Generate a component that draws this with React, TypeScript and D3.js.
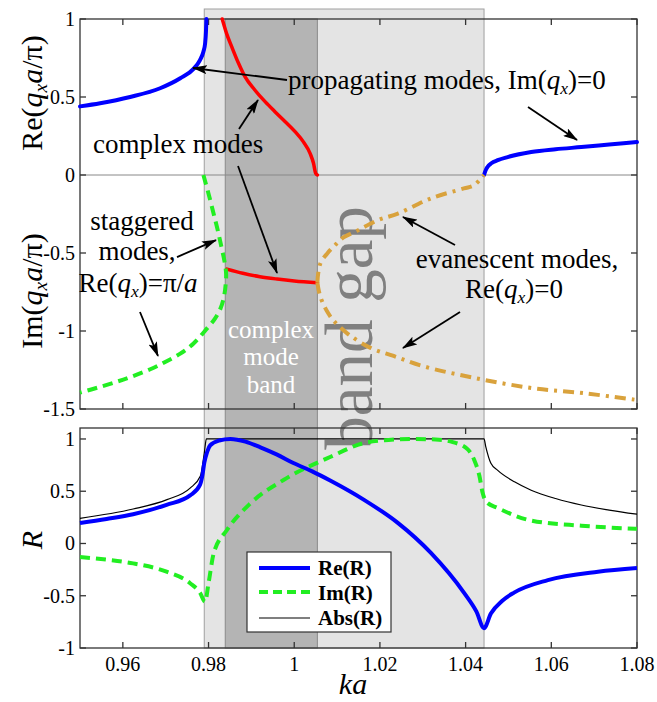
import React from 'react';
import * as d3 from 'd3';

// axis ticks
const xTicks = [0.96, 0.98, 1, 1.02, 1.04, 1.06, 1.08];
const topTicks = [1, 0.5, 0, -0.5, -1, -1.5];
const botTicks = [1, 0.5, 0, -0.5, -1];

// band edges (ka)
const gapStart = 0.979;
const complexStart = 0.9839;
const complexEnd = 1.0054;
const gapEnd = 1.0443;

// top panel: propagating modes, Re(q_x a/pi)
const propLeftKa = [0.95, 0.9547, 0.9617, 0.9687, 0.9734, 0.9765, 0.978, 0.9788, 0.9792, 0.9794, 0.9795];
const propLeftVal = [0.44, 0.46, 0.5, 0.556, 0.62, 0.68, 0.737, 0.79, 0.844, 0.92, 1.0];
const propRightKa = [1.0443, 1.0446, 1.0451, 1.046, 1.0475, 1.0498, 1.0553, 1.061, 1.067, 1.0735, 1.08];
const propRightVal = [0.0, 0.025, 0.051, 0.075, 0.095, 0.115, 0.147, 0.165, 0.179, 0.195, 0.211];

// complex modes: Re and Im
const complexReKa = [0.9832, 0.9842, 0.9854, 0.987, 0.9885, 0.9908, 0.9932, 0.9955, 0.9979, 1.0002, 1.0021, 1.0037, 1.0045, 1.005, 1.0054];
const complexReVal = [1.0, 0.908, 0.823, 0.716, 0.63, 0.545, 0.47, 0.406, 0.342, 0.278, 0.214, 0.139, 0.075, 0.011, 0.0];
const complexImKa = [0.9843, 0.988, 0.992, 0.996, 1.0, 1.0054];
const complexImVal = [-0.603, -0.63, -0.652, -0.667, -0.679, -0.69];

// staggered modes, Im part (traced from the top end)
const staggKa = [0.9788, 0.98, 0.9812, 0.9822, 0.983, 0.9837, 0.9841, 0.984, 0.9836, 0.9828, 0.9815, 0.9796, 0.9765, 0.9734, 0.97, 0.9664, 0.962, 0.9586, 0.954, 0.95];
const staggVal = [0.0, -0.12, -0.25, -0.36, -0.46, -0.55, -0.63, -0.7, -0.78, -0.855, -0.92, -0.985, -1.08, -1.145, -1.197, -1.245, -1.293, -1.325, -1.364, -1.395];

// evanescent modes, two branches
const evanUpKa = [1.0054, 1.0056, 1.0062, 1.0078, 1.0095, 1.0115, 1.0148, 1.0195, 1.0242, 1.0319, 1.0396, 1.0419, 1.0443];
const evanUpVal = [-0.69, -0.63, -0.56, -0.5, -0.45, -0.4, -0.356, -0.29, -0.247, -0.15, -0.086, -0.067, 0.0];
const evanLoKa = [1.0054, 1.0058, 1.0065, 1.0078, 1.0092, 1.0125, 1.0178, 1.0232, 1.03, 1.0419, 1.0553, 1.068, 1.0794];
const evanLoVal = [-0.69, -0.75, -0.81, -0.88, -0.934, -1.018, -1.108, -1.16, -1.225, -1.3, -1.365, -1.4, -1.44];

// bottom panel: reflection coefficient R
const reRKa = [0.95, 0.9562, 0.9624, 0.9702, 0.9757, 0.978, 0.9786, 0.979, 0.9797, 0.9804, 0.9825, 0.9851, 0.9886, 0.9921, 0.996, 0.9998, 1.0042, 1.0085, 1.0162, 1.0241, 1.0319, 1.0396, 1.0425, 1.0443, 1.0459, 1.0485, 1.0513, 1.0592, 1.0709, 1.08];
const reRVal = [0.196, 0.235, 0.28, 0.37, 0.46, 0.56, 0.66, 0.77, 0.88, 0.94, 0.985, 1.0, 0.975, 0.92, 0.85, 0.77, 0.69, 0.6, 0.42, 0.2, -0.09, -0.47, -0.65, -0.81, -0.67, -0.55, -0.47, -0.35, -0.27, -0.235];
const imRKa = [0.95, 0.9562, 0.9624, 0.9702, 0.9757, 0.978, 0.9792, 0.98, 0.9812, 0.9843, 0.9898, 0.9976, 1.0085, 1.0162, 1.022, 1.0279, 1.033, 1.037, 1.0405, 1.042, 1.0432, 1.044, 1.0448, 1.0475, 1.0553, 1.067, 1.08];
const imRVal = [-0.13, -0.155, -0.19, -0.27, -0.38, -0.47, -0.557, -0.38, -0.094, 0.129, 0.385, 0.61, 0.83, 0.96, 0.99, 1.0, 0.995, 0.97, 0.9, 0.8, 0.65, 0.48, 0.4, 0.34, 0.22, 0.17, 0.14];
const absRKa = [0.95, 0.9624, 0.9703, 0.9757, 0.9781, 0.979, 0.9795, 1.0443, 1.0447, 1.0459, 1.0475, 1.0514, 1.0553, 1.061, 1.067, 1.0735, 1.08];
const absRVal = [0.241, 0.33, 0.42, 0.53, 0.645, 0.863, 1.0, 1.0, 0.927, 0.767, 0.7, 0.59, 0.51, 0.43, 0.368, 0.32, 0.28];

// annotation arrows, [ka0, v0, ka1, v1] in top-panel units
const arrows = [
  [0.99831, 0.609, 0.97637, 0.686],
  [1.05456, 0.436, 1.066, 0.224],
  [0.98711, 0.295, 0.99154, 0.481],
  [0.98688, 0.058, 0.99598, -0.628],
  [0.97264, -0.526, 0.98174, -0.417],
  [0.964, -0.878, 0.9682, -1.16],
  [1.03752, -0.449, 1.02538, -0.269],
  [1.03869, -0.878, 1.02538, -1.109],
];

const W = 657;
const H = 702;
const serif = '"Liberation Serif", "DejaVu Serif", serif';
const blue = '#0000ff';
const green = '#22ee22';
const red = '#ff0000';
const gold = '#d9a23c';

const x = d3.scaleLinear().domain([0.95, 1.08]).range([80, 637]);
const yT = d3.scaleLinear().domain([-1.5, 1]).range([409, 19]);
const yB = d3.scaleLinear().domain([-1, 1.105]).range([648, 428]);

function curve(ka: number[], val: number[], y: d3.ScaleLinear<number, number>, mono = true) {
  return d3.line<number>()
    .x((_, i) => x(ka[i]))
    .y(d => y(d))
    .curve(mono ? d3.curveMonotoneX : d3.curveCatmullRom.alpha(0.5))(val) || '';
}

const Sub = ({ c }: { c: string }) => (
  <>
    <tspan fontStyle="italic">q</tspan>
    <tspan fontStyle="italic" fontSize="0.65em" dy="5">{c}</tspan>
  </>
);

function Frame({ y, ticks, top, bottom }: { y: d3.ScaleLinear<number, number>; ticks: number[]; top: number; bottom: number }) {
  const t = 6;
  return (
    <g stroke="#333" strokeWidth={1.3} fill="none">
      <rect x={80} y={top} width={557} height={bottom - top} />
      {xTicks.map(v => (
        <g key={'x' + v}>
          <line x1={x(v)} x2={x(v)} y1={top} y2={top + t} />
          <line x1={x(v)} x2={x(v)} y1={bottom} y2={bottom - t} />
        </g>
      ))}
      {ticks.map(v => (
        <g key={'y' + v}>
          <line x1={80} x2={80 + t} y1={y(v)} y2={y(v)} />
          <line x1={637} x2={637 - t} y1={y(v)} y2={y(v)} />
        </g>
      ))}
    </g>
  );
}

export default function App() {
  return (
    <svg width={W} height={H} style={{ position: 'absolute', left: 0, top: 0, background: '#fff', fontFamily: serif }}>
      <defs>
        <marker id="arr" markerWidth={15} markerHeight={9} refX={14} refY={4.5} orient="auto" markerUnits="userSpaceOnUse">
          <path d="M0,0 L15,4.5 L0,9 L3,4.5 z" fill="#000" />
        </marker>
      </defs>

      {/* bands */}
      <rect x={x(gapStart)} y={9} width={x(gapEnd) - x(gapStart)} height={648 - 9} fill="#e4e4e4" stroke="#a0a0a0" strokeWidth={1} />
      <rect x={x(complexStart)} y={19} width={x(complexEnd) - x(complexStart)} height={648 - 19} fill="#b4b4b4" stroke="#8a8a8a" strokeWidth={1} />

      {/* band gap label */}
      <text transform="translate(372,328) rotate(-90)" textAnchor="middle" fontSize={67} fill="#808080">band gap</text>

      {/* complex mode band label */}
      <g fill="#fff" fontSize={25} textAnchor="middle">
        <text x={271} y={338}>complex</text>
        <text x={271} y={365}>mode</text>
        <text x={271} y={393}>band</text>
      </g>

      {/* zero line */}
      <line x1={80} x2={637} y1={yT(0)} y2={yT(0)} stroke="#888" strokeWidth={1} />

      <Frame y={yT} ticks={topTicks} top={19} bottom={409} />
      <Frame y={yB} ticks={botTicks} top={428} bottom={648} />

      {/* tick labels */}
      <g fontSize={20} textAnchor="end" fill="#000">
        {topTicks.map(v => (
          <text key={'lt' + v} x={75} y={yT(v)} dy="0.35em">{String(v)}</text>
        ))}
        {botTicks.map(v => (
          <text key={'lb' + v} x={75} y={yB(v)} dy="0.35em">{String(v)}</text>
        ))}
      </g>
      <g fontSize={20} textAnchor="middle" fill="#000">
        {xTicks.map(v => (
          <text key={'lx' + v} x={x(v)} y={671}>{String(v)}</text>
        ))}
      </g>

      {/* axis titles */}
      <text transform="translate(42,93) rotate(-90)" textAnchor="middle" fontSize={30}>
        Re(<Sub c="x" /><tspan dy="-5" fontStyle="italic">a</tspan>/π)
      </text>
      <text transform="translate(42,291) rotate(-90)" textAnchor="middle" fontSize={30}>
        Im(<Sub c="x" /><tspan dy="-5" fontStyle="italic">a</tspan>/π)
      </text>
      <text transform="translate(42,540) rotate(-90)" textAnchor="middle" fontSize={30} fontStyle="italic">R</text>
      <text x={353} y={694} textAnchor="middle" fontSize={30} fontStyle="italic">ka</text>

      {/* top panel curves */}
      <g fill="none" strokeLinecap="round">
        <path d={curve(propLeftKa, propLeftVal, yT)} stroke={blue} strokeWidth={4} />
        <path d={curve(propRightKa, propRightVal, yT)} stroke={blue} strokeWidth={4} />
        <path d={curve(complexReKa, complexReVal, yT)} stroke={red} strokeWidth={3.5} />
        <path d={curve(complexImKa, complexImVal, yT)} stroke={red} strokeWidth={3.5} />
        <path d={curve(staggKa, staggVal, yT, false)} stroke={green} strokeWidth={4} strokeDasharray="10,6" strokeLinecap="butt" />
        <path d={curve(evanUpKa, evanUpVal, yT, false)} stroke={gold} strokeWidth={4} strokeDasharray="11,6,3,6" strokeLinecap="butt" />
        <path d={curve(evanLoKa, evanLoVal, yT, false)} stroke={gold} strokeWidth={4} strokeDasharray="11,6,3,6" strokeLinecap="butt" />
      </g>

      {/* bottom panel curves */}
      <g fill="none">
        <path d={curve(absRKa, absRVal, yB)} stroke="#000" strokeWidth={1.2} />
        <path d={curve(imRKa, imRVal, yB)} stroke={green} strokeWidth={4} strokeDasharray="10,6" />
        <path d={curve(reRKa, reRVal, yB)} stroke={blue} strokeWidth={4} />
      </g>

      {/* arrows */}
      <g stroke="#000" strokeWidth={1.8}>
        {arrows.map((a, i) => (
          <line key={i} x1={x(a[0])} y1={yT(a[1])} x2={x(a[2])} y2={yT(a[3])} markerEnd="url(#arr)" />
        ))}
      </g>

      {/* annotations */}
      <g fontSize={27} fill="#000">
        <text x={288} y={89}>propagating modes, Im(<Sub c="x" /><tspan dy="-5">)=0</tspan></text>
        <text x={93} y={153}>complex modes</text>
        <text x={142} y={230} textAnchor="middle">staggered</text>
        <text x={137} y={260} textAnchor="middle">modes,</text>
        <text x={138} y={292} textAnchor="middle">Re(<Sub c="x" /><tspan dy="-5">)=π/</tspan><tspan fontStyle="italic">a</tspan></text>
        <text x={517} y={268} textAnchor="middle">evanescent modes,</text>
        <text x={514} y={298} textAnchor="middle">Re(<Sub c="x" /><tspan dy="-5">)=0</tspan></text>
      </g>

      {/* legend */}
      <g>
        <rect x={247} y={552} width={144} height={80} fill="#fff" stroke="#333" strokeWidth={1.2} />
        <line x1={259} x2={310} y1={568} y2={568} stroke={blue} strokeWidth={4} />
        <line x1={259} x2={310} y1={592} y2={592} stroke={green} strokeWidth={4} strokeDasharray="9,5" />
        <line x1={259} x2={310} y1={618} y2={618} stroke="#000" strokeWidth={1.2} />
        <g fontSize={21} fontWeight="bold">
          <text x={318} y={575}>Re(R)</text>
          <text x={318} y={600}>Im(R)</text>
          <text x={318} y={625}>Abs(R)</text>
        </g>
      </g>
    </svg>
  );
}
